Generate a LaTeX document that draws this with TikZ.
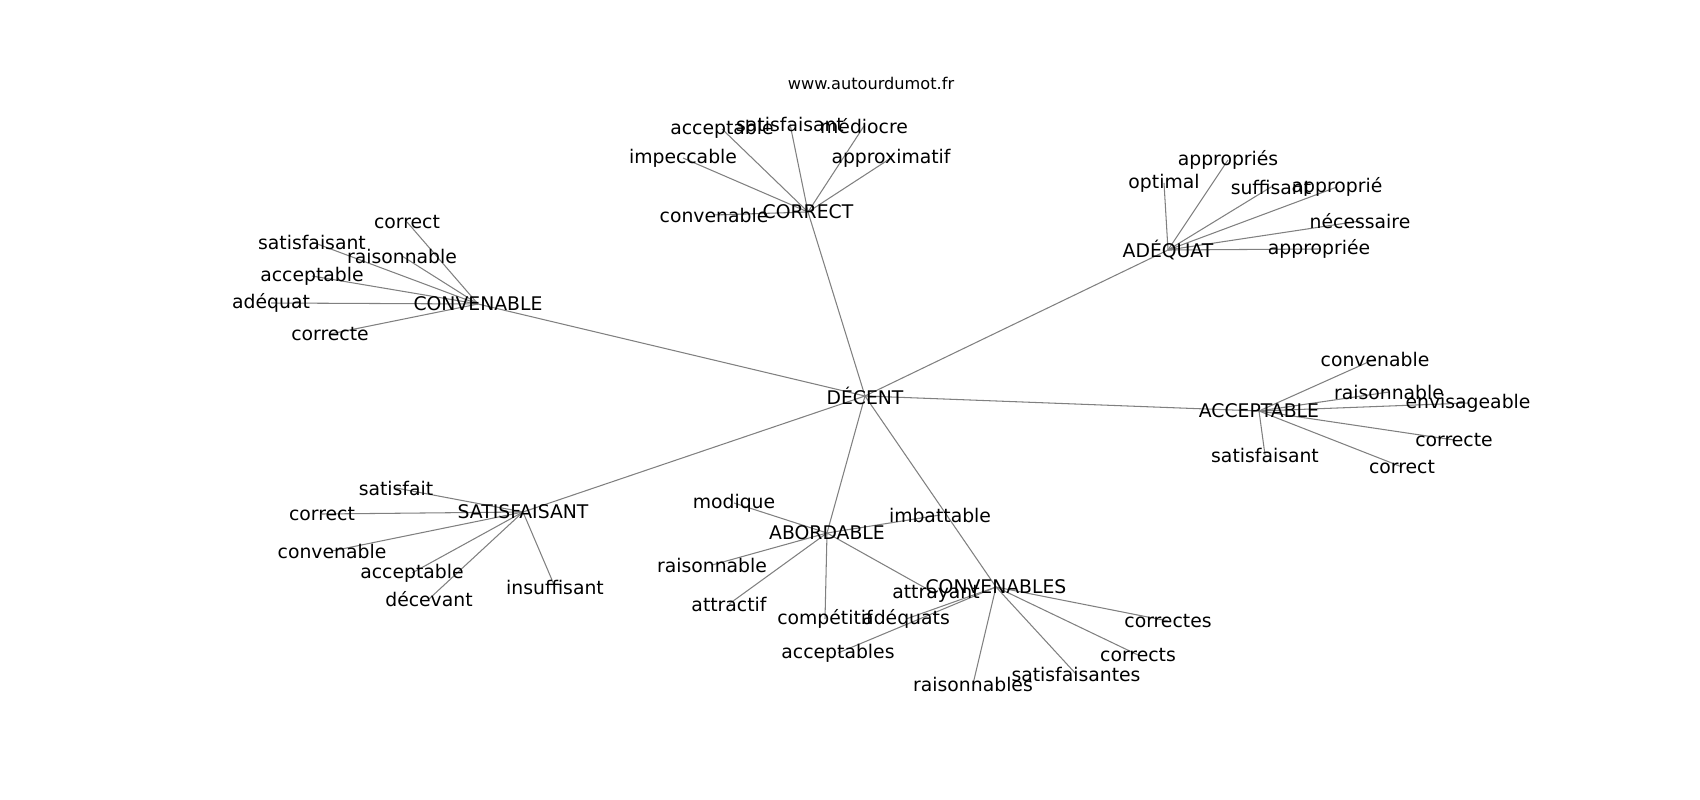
\documentclass[tikz,border=0pt]{standalone}
\usepackage{fontspec}
\setmainfont{DejaVu Sans}
\usetikzlibrary{backgrounds}

\tikzset{word/.style={inner sep=0pt,font=\fontsize{10.7}{12}\selectfont}}
\tikzset{link/.style={draw=gray,line width=0.6pt}}

\begin{document}
\begin{tikzpicture}[x=0.02cm,y=-0.02cm]
	\useasboundingbox (0,0) rectangle (1700,800);
	\node[word,font=\fontsize{9.2}{11}\selectfont] (site) at (871,83) {www.autourdumot.fr};

	\begin{scope}
	\clip (212,96) rectangle (1530,712);
	% hubs
	\node[word] (dec) at (865,396) {DÉCENT};
	\node[word] (cor) at (808,212) {CORRECT};
	\node[word] (adq) at (1168,250) {ADÉQUAT};
	\node[word] (cvn) at (478,304) {CONVENABLE};
	\node[word] (acc) at (1259,411) {ACCEPTABLE};
	\node[word] (sat) at (523,512) {SATISFAISANT};
	\node[word] (abo) at (827,533) {ABORDABLE};
	\node[word] (cvs) at (996,587) {CONVENABLES};

	% words around CORRECT
	\node[word] (cor1) at (722,129) {acceptable};
	\node[word] (cor2) at (790,124) {satisfaisant};
	\node[word] (cor3) at (864,126) {médiocre};
	\node[word] (cor4) at (683,158) {impeccable};
	\node[word] (cor5) at (891,158) {approximatif};
	\node[word] (cor6) at (714,215) {convenable};

	% words around ADÉQUAT
	\node[word] (adq1) at (1228,160) {appropriés};
	\node[word] (adq2) at (1164,183) {optimal};
	\node[word] (adq3) at (1271,187) {suffisant};
	\node[word] (adq4) at (1337,187) {approprié};
	\node[word] (adq5) at (1360,221) {nécessaire};
	\node[word] (adq6) at (1319,249) {appropriée};

	% words around CONVENABLE
	\node[word] (cvn1) at (407,222) {correct};
	\node[word] (cvn2) at (312,242) {satisfaisant};
	\node[word] (cvn3) at (402,256) {raisonnable};
	\node[word] (cvn4) at (312,276) {acceptable};
	\node[word] (cvn5) at (271,303) {adéquat};
	\node[word] (cvn6) at (330,334) {correcte};

	% words around ACCEPTABLE
	\node[word] (acc1) at (1375,359) {convenable};
	\node[word] (acc2) at (1389,392) {raisonnable};
	\node[word] (acc3) at (1468,403) {envisageable};
	\node[word] (acc4) at (1454,440) {correcte};
	\node[word] (acc5) at (1265,455) {satisfaisant};
	\node[word] (acc6) at (1402,467) {correct};

	% words around SATISFAISANT
	\node[word] (sat1) at (396,488) {satisfait};
	\node[word] (sat2) at (322,514) {correct};
	\node[word] (sat3) at (332,551) {convenable};
	\node[word] (sat4) at (412,573) {acceptable};
	\node[word] (sat5) at (429,599) {décevant};
	\node[word] (sat6) at (555,587) {insuffisant};

	% words around ABORDABLE
	\node[word] (abo1) at (734,503) {modique};
	\node[word] (abo2) at (940,515) {imbattable};
	\node[word] (abo3) at (712,565) {raisonnable};
	\node[word] (abo4) at (729,604) {attractif};
	\node[word] (abo5) at (825,619) {compétitif};
	\node[word] (abo6) at (936,594) {attrayant};

	% words around CONVENABLES
	\node[word] (cvs1) at (906,619) {adéquats};
	\node[word] (cvs2) at (838,653) {acceptables};
	\node[word] (cvs3) at (973,684) {raisonnables};
	\node[word] (cvs4) at (1076,674) {satisfaisantes};
	\node[word] (cvs5) at (1138,655) {corrects};
	\node[word] (cvs6) at (1168,621) {correctes};
	\end{scope}

	\begin{pgfonlayer}{background}
	\draw[link] (dec.center) -- (cor.center);
	\draw[link] (dec.center) -- (adq.center);
	\draw[link] (dec.center) -- (cvn.center);
	\draw[link] (dec.center) -- (acc.center);
	\draw[link] (dec.center) -- (sat.center);
	\draw[link] (dec.center) -- (abo.center);
	\draw[link] (dec.center) -- (cvs.center);

	\draw[link] (cor.center) -- (cor1.center);
	\draw[link] (cor.center) -- (cor2.center);
	\draw[link] (cor.center) -- (cor3.center);
	\draw[link] (cor.center) -- (cor4.center);
	\draw[link] (cor.center) -- (cor5.center);
	\draw[link] (cor.center) -- (cor6.center);

	\draw[link] (adq.center) -- (adq1.center);
	\draw[link] (adq.center) -- (adq2.center);
	\draw[link] (adq.center) -- (adq3.center);
	\draw[link] (adq.center) -- (adq4.center);
	\draw[link] (adq.center) -- (adq5.center);
	\draw[link] (adq.center) -- (adq6.center);

	\draw[link] (cvn.center) -- (cvn1.center);
	\draw[link] (cvn.center) -- (cvn2.center);
	\draw[link] (cvn.center) -- (cvn3.center);
	\draw[link] (cvn.center) -- (cvn4.center);
	\draw[link] (cvn.center) -- (cvn5.center);
	\draw[link] (cvn.center) -- (cvn6.center);

	\draw[link] (acc.center) -- (acc1.center);
	\draw[link] (acc.center) -- (acc2.center);
	\draw[link] (acc.center) -- (acc3.center);
	\draw[link] (acc.center) -- (acc4.center);
	\draw[link] (acc.center) -- (acc5.center);
	\draw[link] (acc.center) -- (acc6.center);

	\draw[link] (sat.center) -- (sat1.center);
	\draw[link] (sat.center) -- (sat2.center);
	\draw[link] (sat.center) -- (sat3.center);
	\draw[link] (sat.center) -- (sat4.center);
	\draw[link] (sat.center) -- (sat5.center);
	\draw[link] (sat.center) -- (sat6.center);

	\draw[link] (abo.center) -- (abo1.center);
	\draw[link] (abo.center) -- (abo2.center);
	\draw[link] (abo.center) -- (abo3.center);
	\draw[link] (abo.center) -- (abo4.center);
	\draw[link] (abo.center) -- (abo5.center);
	\draw[link] (abo.center) -- (abo6.center);

	\draw[link] (cvs.center) -- (cvs1.center);
	\draw[link] (cvs.center) -- (cvs2.center);
	\draw[link] (cvs.center) -- (cvs3.center);
	\draw[link] (cvs.center) -- (cvs4.center);
	\draw[link] (cvs.center) -- (cvs5.center);
	\draw[link] (cvs.center) -- (cvs6.center);
	\end{pgfonlayer}
\end{tikzpicture}
\end{document}
